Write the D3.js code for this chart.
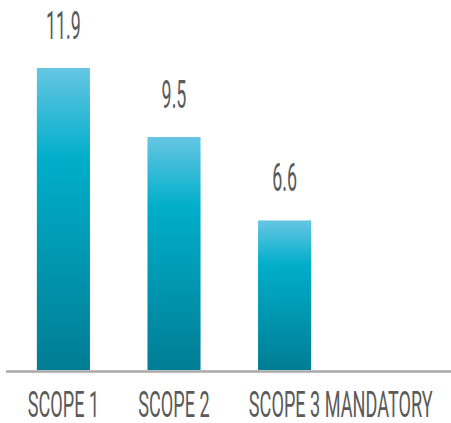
<!DOCTYPE html>
<html>
<head>
<meta charset="utf-8">
<script src="https://cdn.jsdelivr.net/npm/d3@7"></script>
<style>
  html, body { margin: 0; padding: 0; background: #fff; }
  svg { display: block; }
  text { font-family: Roboto, "Liberation Sans", sans-serif; fill: #5a5a5a; }
</style>
</head>
<body>
<svg id="chart" width="451" height="423"></svg>
<script>
// chart data
var scopes = ["SCOPE 1", "SCOPE 2", "SCOPE 3"],
    scope_suffix = ["", "", " MANDATORY"],
    emissions = [11.9, 9.5, 6.6],
    value_labels = ["11.9", "9.5", "6.6"];

var svg = d3.select("#chart"),
    width = 451,
    baseline = 370,
    squeeze = 0.47,      // no condensed font installed, so squash text sideways
    cat_squeeze = 0.49;

var x = d3.scaleBand()
    .domain(scopes)
    .range([7, 341])
    .paddingInner(0.52)
    .paddingOuter(0.27);

// the original bars don't start from zero, fitted against the picture
var y = d3.scaleLinear()
    .domain([1.4, 11.9])
    .range([baseline, 68]);

var grad = svg.append("defs").append("linearGradient")
    .attr("id", "bar-fill")
    .attr("x1", 0).attr("y1", 0)
    .attr("x2", 0).attr("y2", 1);
grad.append("stop").attr("offset", "0%").attr("stop-color", "#66c6e3");
grad.append("stop").attr("offset", "30%").attr("stop-color", "#00aeca");
grad.append("stop").attr("offset", "100%").attr("stop-color", "#007d94");

svg.selectAll(".bar")
    .data(scopes)
    .enter().append("rect")
    .attr("class", "bar")
    .attr("x", d => x(d))
    .attr("y", (d, i) => y(emissions[i]))
    .attr("width", x.bandwidth())
    .attr("height", (d, i) => baseline - y(emissions[i]))
    .attr("fill", "url(#bar-fill)");

// baseline
svg.append("line")
    .attr("x1", 6).attr("x2", width)
    .attr("y1", baseline + 1.5).attr("y2", baseline + 1.5)
    .attr("stroke", "#a9a9a9")
    .attr("stroke-width", 2.5);

// values above bars
svg.selectAll(".value")
    .data(scopes)
    .enter().append("text")
    .attr("class", "value")
    .attr("transform", (d, i) =>
        "translate(" + (x(d) + x.bandwidth() / 2) + "," + (y(emissions[i]) - 29) + ") scale(" + squeeze + ",1)")
    .attr("text-anchor", "middle")
    .style("font-size", "38px")
    .text((d, i) => value_labels[i]);

// category labels, the scope part centred under the bar
var cats = svg.selectAll(".cat")
    .data(scopes)
    .enter().append("text")
    .attr("class", "cat")
    .style("font-size", "37px");

cats.append("tspan").attr("class", "main").text(d => d);
cats.append("tspan").text((d, i) => scope_suffix[i]);

cats.each(function(d) {
    var main = d3.select(this).select(".main").node().getComputedTextLength(),
        cx = x(d) + x.bandwidth() / 2 - main * cat_squeeze / 2;
    d3.select(this).attr("transform", "translate(" + cx + "," + 417 + ") scale(" + cat_squeeze + ",1)");
});
</script>
</body>
</html>
